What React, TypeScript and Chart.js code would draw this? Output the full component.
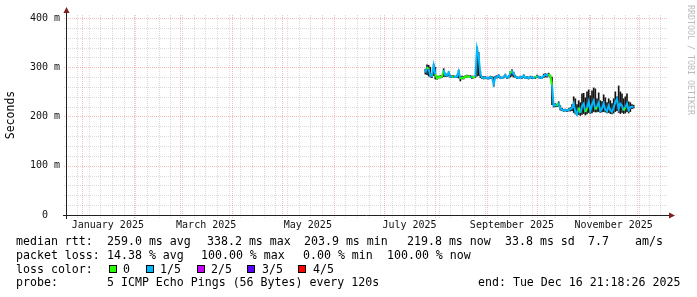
import React, { useEffect, useRef } from 'react';
import { Chart, registerables } from 'chart.js';

Chart.register(...registerables);

// ---------- time axis: days since 2025-01-01 00:00 (local) ----------
const X_MIN = -9.0;
const X_MAX = 351.6;
const MONTH_START_DAYS = [0, 31, 59, 90, 120, 151, 181, 212, 243, 273, 304, 334];
const FIRST_WEEK_LINE = -3; // Sunday 2024-12-29
const LABEL_DAYS = [15.5, 74.5, 135.5, 196.5, 258, 319];
const LABEL_TEXTS = ['January 2025', 'March 2025', 'May 2025', 'July 2025', 'September 2025', 'November 2025'];

// ---------- value axis (ms) ----------
const Y_MAX = 406;
const Y_MAJOR = [0, 100, 200, 300, 400];
const Y_MAJOR_LABELS = ['0  ', '100 m', '200 m', '300 m', '400 m'];
const Y_MINOR = [20, 40, 60, 80, 120, 140, 160, 180, 220, 240, 260, 280, 320, 340, 360, 380];

// ---------- data: one sample per day starting at START_DAY ----------
const START_DAY = 206;
const MEDIAN = [
  289, 300, 296, 283, 282, 304, 286, 277, 280, 280,
  281, 294, 284, 283, 289, 281, 280, 281, 280, 281,
  292, 276, 279, 278, 281, 282, 280, 281, 279, 280,
  281, 338, 322, 287, 279, 278, 279, 278, 277, 280,
  279, 266, 279, 280, 283, 279, 278, 280, 284, 279,
  280, 288, 293, 286, 281, 279, 278, 280, 279, 283,
  278, 279, 278, 280, 279, 278, 279, 282, 280, 279,
  278, 283, 284, 283, 286, 282, 264, 222, 223, 222,
  228, 216, 214, 212, 213, 212, 213, 215, 217, 226,
  210, 204, 218, 207, 221, 226, 209, 218, 230, 212,
  224, 232, 214, 220, 228, 211, 216, 226, 214, 210,
  222, 213, 209, 218, 229, 236, 216, 226, 222, 212,
  218, 226, 213, 219, 220, 220,
];
const LOSS = [
  0, 1, 0, 1, 1, 1, 1, 0, 0, 0,
  0, 0, 1, 1, 1, 1, 1, 0, 1, 1,
  1, 1, 0, 0, 0, 0, 0, 0, 1, 0,
  0, 1, 1, 1, 1, 1, 1, 1, 1, 1,
  1, 1, 1, 1, 1, 1, 1, 1, 1, 1,
  1, 1, 0, 1, 1, 1, 1, 1, 1, 1,
  1, 1, 1, 1, 1, 1, 1, 0, 1, 1,
  1, 1, 1, 1, 1, 0, 0, 1, 1, 1,
  0, 1, 1, 1, 1, 1, 1, 1, 1, 1,
  1, 1, 1, 0, 1, 1, 1, 0, 1, 1,
  1, 1, 1, 0, 1, 1, 1, 1, 1, 1,
  1, 1, 1, 1, 1, 1, 1, 1, 1, 1,
  0, 1, 1, 1, 1, 1,
];
const SMOKE_LO = [
  286, 285, 282, 280, 279, 283, 276, 275, 278, 278,
  279, 281, 281, 281, 282, 279, 279, 279, 279, 279,
  278, 272, 276, 276, 279, 280, 279, 279, 277, 278,
  279, 282, 283, 279, 277, 276, 277, 276, 276, 277,
  277, 261, 277, 278, 279, 277, 277, 278, 280, 277,
  278, 280, 282, 280, 279, 277, 277, 278, 277, 279,
  277, 277, 276, 278, 277, 277, 277, 279, 278, 277,
  277, 279, 280, 280, 282, 279, 224, 219, 220, 220,
  221, 213, 212, 210, 211, 210, 211, 211, 212, 208,
  205, 203, 204, 202, 204, 206, 203, 205, 208, 206,
  207, 210, 209, 209, 210, 208, 209, 210, 209, 207,
  208, 206, 205, 207, 210, 212, 208, 206, 208, 206,
  207, 210, 207, 210, 216, 217,
];
const SMOKE_HI = [
  296, 305, 304, 300, 286, 306, 300, 282, 282, 283,
  283, 297, 288, 286, 291, 284, 283, 283, 282, 284,
  294, 282, 282, 281, 283, 284, 283, 283, 282, 282,
  283, 341, 330, 292, 281, 281, 281, 280, 280, 282,
  281, 280, 282, 283, 285, 281, 280, 282, 286, 281,
  283, 291, 295, 290, 284, 281, 280, 282, 281, 285,
  280, 281, 280, 282, 281, 280, 281, 284, 282, 281,
  280, 286, 287, 286, 288, 284, 280, 226, 226, 225,
  230, 222, 217, 214, 215, 214, 216, 218, 224, 240,
  236, 224, 232, 228, 246, 247, 238, 250, 254, 242,
  252, 258, 256, 236, 248, 232, 230, 244, 238, 228,
  236, 232, 226, 236, 250, 240, 262, 250, 246, 236,
  240, 246, 230, 228, 224, 223,
];

// ---------- legend ----------
const LOSS_COLORS = ['#26ff00', '#00b8ff', '#c800ff', '#5a00ff', '#ff0000'];
const LOSS_LABELS = ['0', '1/5', '2/5', '3/5', '4/5'];
const SWATCH_X = [109, 146, 197, 247, 298];
const SWATCH_LABEL_X = [123, 160, 211, 262, 313];
const LEGEND_LINES: [number, [number, string][]][] = [
  [245, [[16, 'median rtt:'], [107, '259.0 ms avg'], [207, '338.2 ms max'], [304, '203.9 ms min'], [407, '219.8 ms now'], [505, '33.8 ms sd'], [588, '7.7'], [635, 'am/s']]],
  [258.5, [[16, 'packet loss:'], [107, '14.38 % avg'], [201, '100.00 % max'], [303, '0.00 % min'], [387, '100.00 % now']]],
  [272.5, [[16, 'loss color:']]],
  [286, [[16, 'probe:'], [107, '5 ICMP Echo Pings (56 Bytes) every 120s'], [478, 'end: Tue Dec 16 21:18:26 2025']]],
];
const WATERMARK = 'RRDTOOL / TOBI OETIKER';

const MONO = '"DejaVu Sans Mono", monospace';
const MINOR_COLOR = 'rgba(150,150,150,0.36)';
const MAJOR_COLOR = 'rgba(225,80,80,0.38)';
const AXIS_COLOR = '#1f1f1f';
const ARROW_COLOR = '#801f1f';
const SMOKE_COLOR = '#141414';

const rrdPlugin = {
  id: 'rrd',
  beforeDraw(chart: any) {
    const { ctx, width, height } = chart;
    ctx.save();
    ctx.fillStyle = '#ffffff';
    ctx.fillRect(0, 0, width, height);
    ctx.restore();
  },
  beforeDatasetsDraw(chart: any) {
    const { ctx, chartArea: a, scales } = chart;
    const x = scales.x;
    const y = scales.y;
    ctx.save();
    ctx.lineWidth = 1;
    ctx.setLineDash([1, 1]);
    const vline = (d: number, color: string) => {
      const px = Math.round(x.getPixelForValue(d)) + 0.5;
      if (px < a.left || px > a.right) return;
      ctx.strokeStyle = color;
      ctx.beginPath();
      ctx.moveTo(px, a.top);
      ctx.lineTo(px, a.bottom + 3);
      ctx.stroke();
    };
    const hline = (v: number, color: string) => {
      const py = Math.round(y.getPixelForValue(v)) + 0.5;
      ctx.strokeStyle = color;
      ctx.beginPath();
      ctx.moveTo(a.left - 3, py);
      ctx.lineTo(a.right, py);
      ctx.stroke();
    };
    for (let d = FIRST_WEEK_LINE; d <= X_MAX; d += 7) {
      if (MONTH_START_DAYS.indexOf(d) === -1) vline(d, MINOR_COLOR);
    }
    Y_MINOR.forEach((v) => hline(v, MINOR_COLOR));
    MONTH_START_DAYS.forEach((d) => vline(d, MAJOR_COLOR));
    Y_MAJOR.forEach((v) => { if (v > 0) hline(v, MAJOR_COLOR); });
    ctx.restore();
  },
  afterDatasetsDraw(chart: any) {
    const { ctx, chartArea: a } = chart;
    ctx.save();
    const ax = Math.round(a.left) - 0.5;
    const ay = Math.round(a.bottom) + 0.5;
    ctx.strokeStyle = AXIS_COLOR;
    ctx.lineWidth = 1;
    ctx.beginPath();
    ctx.moveTo(a.left - 4, ay);
    ctx.lineTo(a.right + 2, ay);
    ctx.moveTo(ax, a.bottom + 4);
    ctx.lineTo(ax, a.top - 2);
    ctx.stroke();
    ctx.fillStyle = ARROW_COLOR;
    ctx.beginPath();
    ctx.moveTo(a.right + 1, ay - 3);
    ctx.lineTo(a.right + 7, ay);
    ctx.lineTo(a.right + 1, ay + 3);
    ctx.closePath();
    ctx.fill();
    ctx.beginPath();
    ctx.moveTo(ax - 3, a.top - 2);
    ctx.lineTo(ax, a.top - 8);
    ctx.lineTo(ax + 3, a.top - 2);
    ctx.closePath();
    ctx.fill();
    ctx.restore();
  },
  afterDraw(chart: any) {
    const { ctx } = chart;
    ctx.save();
    ctx.font = `11.6px ${MONO}`;
    ctx.fillStyle = '#000000';
    ctx.textBaseline = 'alphabetic';
    ctx.textAlign = 'left';
    LEGEND_LINES.forEach(([yy, items]) => {
      items.forEach(([xx, t]) => ctx.fillText(t, xx, yy));
    });
    LOSS_COLORS.forEach((c, i) => {
      ctx.fillStyle = c;
      ctx.fillRect(SWATCH_X[i], 265, 8, 8);
      ctx.strokeStyle = '#000000';
      ctx.lineWidth = 1;
      ctx.strokeRect(SWATCH_X[i] + 0.5, 265.5, 7, 7);
      ctx.fillStyle = '#000000';
      ctx.fillText(LOSS_LABELS[i], SWATCH_LABEL_X[i], 272.5);
    });
    ctx.translate(690, 5);
    ctx.rotate(Math.PI / 2);
    ctx.font = `8.3px ${MONO}`;
    ctx.fillStyle = '#bcbcbc';
    ctx.textBaseline = 'middle';
    ctx.fillText(WATERMARK, 0, 0);
    ctx.restore();
  },
};

function buildConfig(): any {
  const axisFont = { family: MONO, size: 10 };
  return {
    type: 'line',
    data: {
      datasets: [
        {
          type: 'line',
          label: 'median rtt',
          data: MEDIAN.map((v, i) => ({ x: START_DAY + i, y: v })),
          borderColor: LOSS_COLORS[1],
          borderWidth: 2,
          pointRadius: 0,
          tension: 0,
          fill: false,
          order: 0,
          segment: {
            borderColor: (c: any) => LOSS_COLORS[LOSS[c.p1DataIndex]],
          },
        },
        {
          type: 'bar',
          label: 'smoke',
          data: SMOKE_LO.map((lo, i) => ({ x: START_DAY + i, y: [lo, SMOKE_HI[i]] })),
          backgroundColor: SMOKE_COLOR,
          borderWidth: 0,
          barThickness: 1,
          grouped: false,
          order: 1,
        },
      ],
    },
    options: {
      responsive: false,
      animation: false,
      devicePixelRatio: 1,
      layout: { padding: { top: 15, right: 29, left: 0, bottom: 0 } },
      plugins: { legend: { display: false }, tooltip: { enabled: false } },
      scales: {
        x: {
          type: 'linear',
          min: X_MIN,
          max: X_MAX,
          offset: false,
          grid: { display: false, drawTicks: false },
          border: { display: false },
          ticks: {
            font: axisFont,
            color: '#111111',
            padding: 4,
            autoSkip: false,
            maxRotation: 0,
            callback: (_v: any, i: number) => LABEL_TEXTS[i],
          },
          afterBuildTicks: (s: any) => {
            s.ticks = LABEL_DAYS.map((v) => ({ value: v }));
          },
          afterFit: (s: any) => {
            s.height = 82;
          },
        },
        y: {
          type: 'linear',
          min: 0,
          max: Y_MAX,
          grid: { display: false, drawTicks: false },
          border: { display: false },
          ticks: {
            font: axisFont,
            color: '#111111',
            padding: 7,
            callback: (_v: any, i: number) => Y_MAJOR_LABELS[i],
          },
          afterBuildTicks: (s: any) => {
            s.ticks = Y_MAJOR.map((v) => ({ value: v }));
          },
          afterFit: (s: any) => {
            s.width = 67;
          },
          title: {
            display: true,
            text: 'Seconds',
            font: { family: MONO, size: 11.5 },
            color: '#000000',
            padding: { top: 4, bottom: 0 },
          },
        },
      },
    },
    plugins: [rrdPlugin],
  };
}

export default function App() {
  const ref = useRef<HTMLCanvasElement>(null);
  useEffect(() => {
    const chart = new Chart(ref.current as HTMLCanvasElement, buildConfig());
    return () => chart.destroy();
  }, []);
  return (
    <div style={{ position: 'absolute', left: 0, top: 0, width: 697, height: 297, background: '#ffffff' }}>
      <canvas ref={ref} width={697} height={297} style={{ display: 'block', width: 697, height: 297 }} />
    </div>
  );
}
